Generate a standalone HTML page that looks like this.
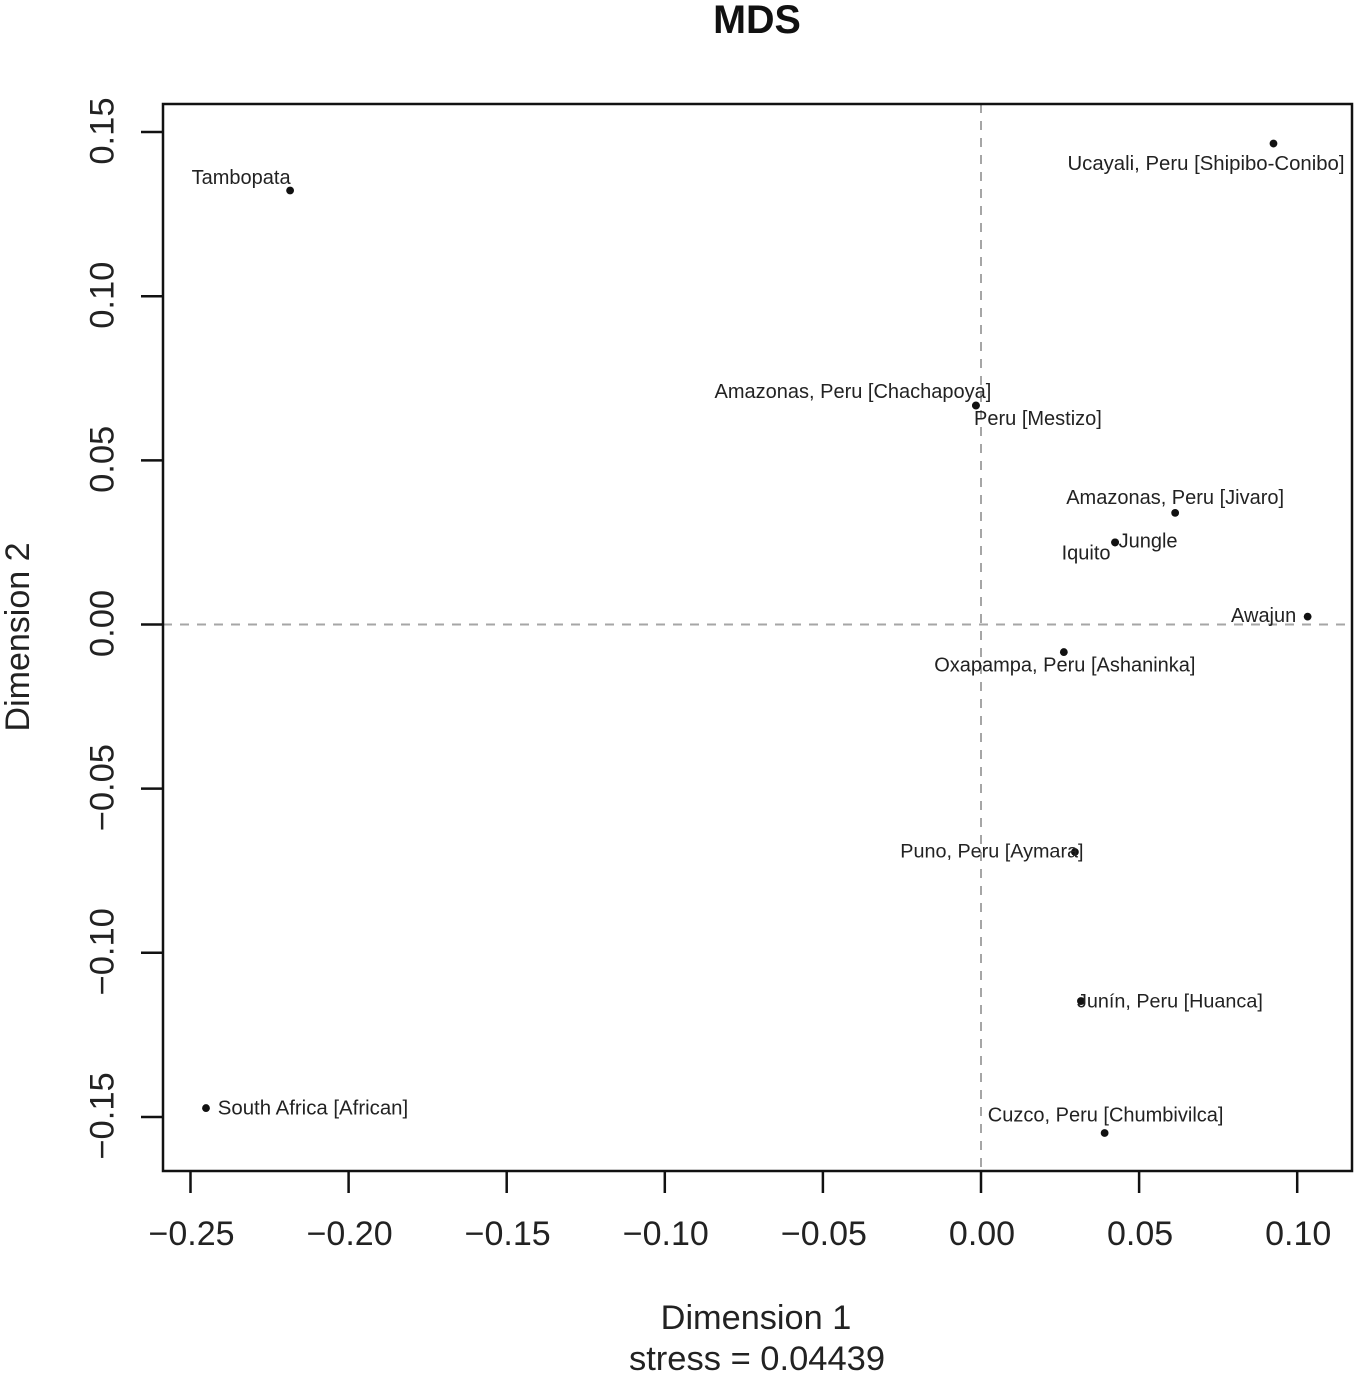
<!DOCTYPE html>
<html>
<head>
<meta charset="utf-8">
<title>MDS</title>
<style>
html,body{margin:0;padding:0;background:#fff;}
svg{display:block;font-family:"Liberation Sans",Arial,sans-serif;}
</style>
</head>
<body>
<svg id="chart" width="1358" height="1375" viewBox="0 0 1358 1375" xmlns="http://www.w3.org/2000/svg"></svg>
<script>
const names = ["Tambopata","Ucayali, Peru [Shipibo-Conibo]","Amazonas, Peru [Chachapoya]","Peru [Mestizo]","Amazonas, Peru [Jivaro]","Jungle","Iquito","Awajun","Oxapampa, Peru [Ashaninka]","Puno, Peru [Aymara]","Junín, Peru [Huanca]","South Africa [African]","Cuzco, Peru [Chumbivilca]"];
const dim1 = [-0.2185,0.0925,-0.0016,-0.0016,0.0614,0.0424,0.0424,0.1033,0.0262,0.0297,0.0316,-0.2451,0.0391];
const dim2 = [0.1322,0.1465,0.0667,0.0667,0.034,0.025,0.025,0.0024,-0.0084,-0.0693,-0.1147,-0.1473,-0.1549];
const xTicks = [-0.25,-0.20,-0.15,-0.10,-0.05,0.00,0.05,0.10];
const yTicks = [-0.15,-0.10,-0.05,0.00,0.05,0.10,0.15];

const svg = document.getElementById('chart');
const NS = 'http://www.w3.org/2000/svg';
function xScale(v){ return 981 + v * 3162; }
function yScale(v){ return 624.5 - v * 3283; }
function make(tag, attrs, parent){
  const el = document.createElementNS(NS, tag);
  for (const k in attrs) el.setAttribute(k, attrs[k]);
  (parent || svg).appendChild(el);
  return el;
}

const title = make('text',{x:757,y:33,'text-anchor':'middle','font-size':39.5,'font-weight':'bold',fill:'#111'});


title.textContent = 'MDS';

const vRef = make('line',{x1:xScale(0),x2:xScale(0),y1:104,y2:1171,stroke:'#a6a6a6','stroke-width':2,'stroke-dasharray':'9 8'});


const hRef = make('line',{x1:163,x2:1352,y1:yScale(0),y2:yScale(0),stroke:'#a6a6a6','stroke-width':2,'stroke-dasharray':'9 8'});



const frame = make('rect',{x:163,y:104,width:1189,height:1067,fill:'none',stroke:'#111','stroke-width':2.5});



const xAxis = make('g',{});


xTicks.forEach(function(t){
  const px = xScale(t);
  const tick = make('line',{x1:px,x2:px,y1:1171,y2:1193,stroke:'#111','stroke-width':2.5},xAxis);
  
  
  const lab = make('text',{x:px+1,y:1245,'text-anchor':'middle','font-size':34,fill:'#222'},xAxis);
  
  
  lab.textContent = t.toFixed(2).replace('-', '\u2212');
});

const yAxis = make('g',{});


yTicks.forEach(function(t){
  const py = yScale(t);
  const tick = make('line',{x1:141,x2:163,y1:py,y2:py,stroke:'#111','stroke-width':2.5},yAxis);
  
  
  const lab = make('text',{x:113.5,y:py-1,'text-anchor':'middle','font-size':34.5,fill:'#222',transform:'rotate(-90 113.5 '+(py-1)+')'},yAxis);
  
  
  lab.textContent = t.toFixed(2).replace('-', '\u2212');
});

const xTitle = make('text',{x:756,y:1329,'text-anchor':'middle','font-size':34.3,fill:'#222'});


xTitle.textContent = 'Dimension 1';
const stress = make('text',{x:757,y:1370,'text-anchor':'middle','font-size':34.5,fill:'#222'});


stress.textContent = 'stress = 0.04439';
const yTitle = make('text',{x:29,y:637,'text-anchor':'middle','font-size':34,fill:'#222',transform:'rotate(-90 29 637)'});


yTitle.textContent = 'Dimension 2';

function drawPoints(){
  const nudgeX = [-49,-67.5,-123,62,0,33,-29,-44,1,-83,89,107,1];
  const nudgeY = [-14,19,-15,12,-16,-2,10,-2,12,-2,-1,-1,-19];
  const sizes = [20,20.35,20,20,20,20,20,20,20,19.8,19.8,20.4,20];
  const points = make('g',{});
  
  
  names.forEach(function(n,i){
    const px = xScale(dim1[i]), py = yScale(dim2[i]);
    const dot = make('circle',{cx:px,cy:py,r:3.9,fill:'#111'},points);
    
    
    const lab = make('text',{x:px+nudgeX[i],y:py+nudgeY[i]+7.3,'text-anchor':'middle','font-size':sizes[i],fill:'#222'},points);
    
    
    lab.textContent = n;
  });
}
drawPoints();
</script>
</body>
</html>
